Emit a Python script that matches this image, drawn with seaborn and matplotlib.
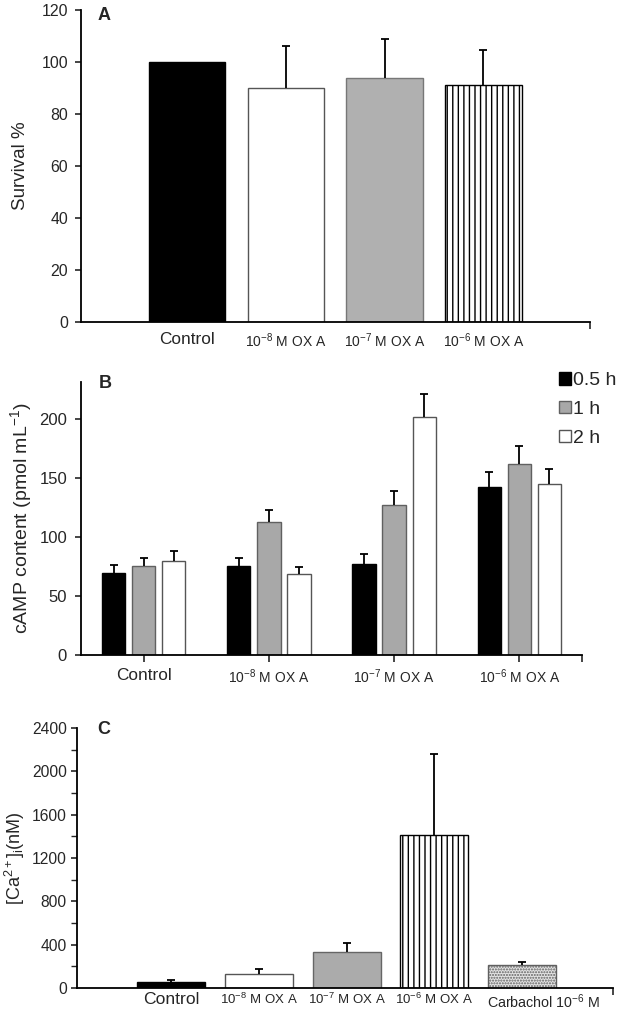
import numpy as np
import pandas as pd
import matplotlib
matplotlib.use('Agg')
import matplotlib.pyplot as plt
import matplotlib.transforms as mtransforms
import seaborn as sns
from matplotlib import font_manager
from matplotlib.ticker import MultipleLocator
from matplotlib.patches import Patch

# Panel A: survival
a_groups = ['Control', 'OXA 1e-8', 'OXA 1e-7', 'OXA 1e-6']
a_labels = ['Control', '10$^{-8}$ M OX A', '10$^{-7}$ M OX A', '10$^{-6}$ M OX A']
a_survival = [100, 90, 94, 91]
a_err = [0, 16, 15, 13.5]

# Panel B: cAMP content
b_groups = ['Control', 'OXA 1e-8', 'OXA 1e-7', 'OXA 1e-6']
b_labels = ['Control', '10$^{-8}$ M OX A', '10$^{-7}$ M OX A', '10$^{-6}$ M OX A']
b_times = ['0.5 h', '1 h', '2 h']
b_camp_05 = [69.5, 75, 77.5, 142]
b_camp_1 = [75.5, 113, 127, 162]
b_camp_2 = [80, 68.5, 202, 144.5]
b_err_05 = [7, 7, 8, 13]
b_err_1 = [7, 10, 12, 15.5]
b_err_2 = [8, 6, 19, 13]

# Panel C: intracellular calcium
c_groups = ['Control', 'OXA 1e-8', 'OXA 1e-7', 'OXA 1e-6', 'Carbachol']
c_labels = ['Control', '10$^{-8}$ M OX A', '10$^{-7}$ M OX A', '10$^{-6}$ M OX A',
            'Carbachol 10$^{-6}$ M']
c_ca = [60, 130, 328, 1410, 212]
c_err = [16, 44, 90, 748, 32]

sns.set_style('ticks')
plt.rcParams['font.family'] = ['Liberation Sans', 'DejaVu Sans']
plt.rcParams['mathtext.fontset'] = 'custom'
plt.rcParams['mathtext.rm'] = 'Liberation Sans'
plt.rcParams['mathtext.it'] = 'Liberation Sans:italic'
plt.rcParams['mathtext.bf'] = 'Liberation Sans:bold'

# condensed face for the 'Control' labels and some tick numbers, if present
installed = {f.name for f in font_manager.fontManager.ttflist}
HAS_NARROW = 'Liberation Sans Narrow' in installed
NARROW = 'Liberation Sans Narrow' if HAS_NARROW else 'Liberation Sans'
NSCALE = 1.0 if HAS_NARROW else 0.84

W, H = 617, 1011
fig = plt.figure(figsize=(W / 100, H / 100), dpi=100)


def box(l, t, r, b):
    return [l / W, 1 - b / H, (r - l) / W, (b - t) / H]


def style_axes(ax, ysize, yfamily, pad):
    for s in ['top', 'right']:
        ax.spines[s].set_visible(False)
    for s in ['left', 'bottom']:
        ax.spines[s].set_linewidth(1.3)
        ax.spines[s].set_color('black')
    ax.tick_params(axis='y', direction='out', length=4, width=1.2, pad=pad)
    for t in ax.get_yticklabels():
        t.set_fontsize(ysize)
        t.set_family(yfamily)
    ax.set_xlabel('')


def set_xlabels(ax, labels, control_size, other_size):
    ax.set_xticks(range(len(labels)))
    ax.set_xticklabels(labels)
    for i, t in enumerate(ax.get_xticklabels()):
        if i == 0:
            t.set_family(NARROW)
            t.set_fontsize(control_size * NSCALE)
        else:
            t.set_fontsize(other_size)


def add_errors(ax, patches, errs):
    pairs = [(p, e) for p, e in zip(patches, errs) if e > 0]
    xs = [p.get_x() + p.get_width() / 2 for p, _ in pairs]
    ys = [p.get_height() for p, _ in pairs]
    es = [e for _, e in pairs]
    _, caps, _ = ax.errorbar(xs, ys, yerr=[np.zeros(len(es)), es], fmt='none',
                             ecolor='black', elinewidth=1.3, capsize=3, capthick=1.3,
                             zorder=5)
    caps[0].set_visible(False)


def style_bars(patches, faces, edges, hatches):
    for p, f, e, h in zip(patches, faces, edges, hatches):
        p.set_facecolor(f)
        p.set_edgecolor(e)
        p.set_linewidth(1.0)
        if h:
            p.set_hatch(h)


# ---------------- A ----------------
axA = fig.add_axes(box(80.7, 10, 589.7, 322))
sns.barplot(x=a_groups, y=a_survival, ax=axA, width=0.774, errorbar=None,
            color='black')
style_bars(axA.patches,
           ['black', 'white', '#b0b0b0', 'white'],
           ['black', '#555555', '#777777', 'black'],
           [None, None, None, '|||'])
add_errors(axA, axA.patches, a_err)
axA.set_xlim(-1.076, 4.076)
axA.set_ylim(0, 120)
axA.yaxis.set_major_locator(MultipleLocator(20))
style_axes(axA, 13.6 * NSCALE, NARROW, 5)
set_xlabels(axA, a_labels, 14.8, 10)
axA.tick_params(axis='x', length=0, pad=7)
axA.set_xticks([4.076], minor=True)
axA.tick_params(axis='x', which='minor', length=5, width=1.2)
axA.set_ylabel('Survival %', fontsize=13.5)
axA.yaxis.set_label_coords(-0.102, 0.5)
fig.text(104.5 / W, 1 - 15 / H, 'A', fontsize=13, fontweight='bold',
         ha='center', va='center')

# ---------------- B ----------------
df_b = pd.DataFrame({
    'group': b_groups * 3,
    'time': np.repeat(b_times, len(b_groups)),
    'camp': b_camp_05 + b_camp_1 + b_camp_2,
})
b_faces = ['black', '#a8a8a8', 'white']
b_edges = ['black', '#606060', '#555555']
b_errs = [b_err_05, b_err_1, b_err_2]

axB = fig.add_axes(box(81, 381.7, 582, 655))
sns.barplot(data=df_b, x='group', y='camp', hue='time', ax=axB, width=0.72,
            gap=0.225, errorbar=None, palette=b_faces, legend=False)
for cont, f, e, errs in zip(axB.containers, b_faces, b_edges, b_errs):
    style_bars(cont.patches, [f] * 4, [e] * 4, [None] * 4)
    add_errors(axB, cont.patches, errs)
axB.set_xlim(-0.5, 3.5)
axB.set_ylim(0, 231.6)
axB.set_yticks([0, 50, 100, 150, 200])
style_axes(axB, 12, 'Liberation Sans', 6)
set_xlabels(axB, b_labels, 14.8, 10)
axB.tick_params(axis='x', length=5, width=1.2, pad=4)
axB.set_xticks([3.5], minor=True)
axB.tick_params(axis='x', which='minor', length=5, width=1.2)
axB.set_ylabel('cAMP content (pmol mL$^{-1}$)', fontsize=14)
axB.yaxis.set_label_coords(-0.094, 0.5)
handles = [Patch(facecolor=f, edgecolor=e, linewidth=1.0) for f, e in zip(b_faces, b_edges)]
axB.legend(handles=handles, labels=b_times, loc='upper left',
           bbox_to_anchor=(559 / W, 1 - 372 / H), bbox_transform=fig.transFigure,
           frameon=False, fontsize=14, handlelength=0.62, handleheight=0.62,
           handletextpad=0.12, labelspacing=0.6, borderpad=0, borderaxespad=0)
fig.text(105 / W, 1 - 383 / H, 'B', fontsize=13, fontweight='bold',
         ha='center', va='center')

# ---------------- C ----------------
axC = fig.add_axes(box(77.3, 728, 613, 988))
sns.barplot(x=c_groups, y=c_ca, ax=axC, width=0.775, errorbar=None, color='black')
style_bars(axC.patches,
           ['black', 'white', '#ababab', 'white', '#e4e4e4'],
           ['black', '#555555', '#666666', 'black', '#606060'],
           [None, None, None, '|||', '......'])
add_errors(axC, axC.patches, c_err)
axC.set_xlim(-1.072, 5.04)
axC.set_ylim(0, 2400)
axC.yaxis.set_major_locator(MultipleLocator(400))
axC.yaxis.set_minor_locator(MultipleLocator(200))
style_axes(axC, 13.4 * NSCALE, NARROW, 3.5)
axC.tick_params(axis='y', which='minor', direction='out', length=4, width=1.0)
set_xlabels(axC, c_labels, 15, 9.5)
axC.tick_params(axis='x', length=0, pad=3)
carb = axC.get_xticklabels()[-1]
carb.set_fontsize(10.3)
carb.set_transform(carb.get_transform()
                   + mtransforms.ScaledTranslation(0.22, 0, fig.dpi_scale_trans))
axC.set_xticks([5.04], minor=True)
axC.tick_params(axis='x', which='minor', length=5, width=1.2)
axC.set_ylabel('[Ca$^{2+}$]$_{\\rm i}$(nM)', fontsize=13)
axC.yaxis.set_label_coords(-0.094, 0.5)
fig.text(104 / W, 1 - 730 / H, 'C', fontsize=13, fontweight='bold',
         ha='center', va='center')

fig.savefig('out.png', dpi=100)
